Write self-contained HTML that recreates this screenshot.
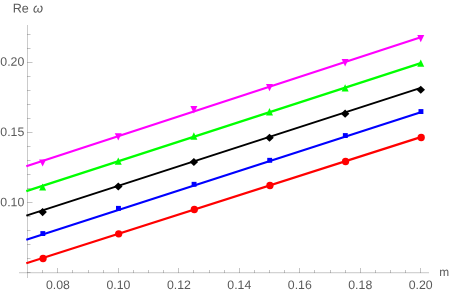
<!DOCTYPE html>
<html><head><meta charset="utf-8"><title>plot</title>
<style>
html,body{margin:0;padding:0;background:#fff;}
body{width:450px;height:295px;position:relative;overflow:hidden;font-family:"Liberation Sans",sans-serif;}
.t{position:absolute;font-size:12.3px;line-height:14px;color:#5a5a5a;white-space:nowrap;will-change:transform;font-family:"Liberation Sans",sans-serif;}
</style></head><body>
<svg width="450" height="295" viewBox="0 0 450 295" style="position:absolute;left:0;top:0">
<g stroke="#666666" fill="none">
<line x1="19" y1="272.5" x2="429" y2="272.5" stroke-width="1" stroke-opacity="0.29" shape-rendering="crispEdges"/>
<line x1="19" y1="273.5" x2="429" y2="273.5" stroke-width="1" stroke-opacity="0.08" shape-rendering="crispEdges"/>
<line x1="27.5" y1="25" x2="27.5" y2="278" stroke-width="1" stroke-opacity="0.34" shape-rendering="crispEdges"/>
<g stroke-width="1" stroke-opacity="0.39" shape-rendering="crispEdges">
<line x1="42.5" y1="273" x2="42.5" y2="270"/>
<line x1="57.5" y1="273" x2="57.5" y2="268"/>
<line x1="72.5" y1="273" x2="72.5" y2="270"/>
<line x1="88.5" y1="273" x2="88.5" y2="270"/>
<line x1="103.5" y1="273" x2="103.5" y2="270"/>
<line x1="118.5" y1="273" x2="118.5" y2="268"/>
<line x1="133.5" y1="273" x2="133.5" y2="270"/>
<line x1="148.5" y1="273" x2="148.5" y2="270"/>
<line x1="163.5" y1="273" x2="163.5" y2="270"/>
<line x1="178.5" y1="273" x2="178.5" y2="268"/>
<line x1="193.5" y1="273" x2="193.5" y2="270"/>
<line x1="209.5" y1="273" x2="209.5" y2="270"/>
<line x1="224.5" y1="273" x2="224.5" y2="270"/>
<line x1="239.5" y1="273" x2="239.5" y2="268"/>
<line x1="254.5" y1="273" x2="254.5" y2="270"/>
<line x1="269.5" y1="273" x2="269.5" y2="270"/>
<line x1="284.5" y1="273" x2="284.5" y2="270"/>
<line x1="299.5" y1="273" x2="299.5" y2="268"/>
<line x1="314.5" y1="273" x2="314.5" y2="270"/>
<line x1="330.5" y1="273" x2="330.5" y2="270"/>
<line x1="345.5" y1="273" x2="345.5" y2="270"/>
<line x1="360.5" y1="273" x2="360.5" y2="268"/>
<line x1="375.5" y1="273" x2="375.5" y2="270"/>
<line x1="390.5" y1="273" x2="390.5" y2="270"/>
<line x1="405.5" y1="273" x2="405.5" y2="270"/>
<line x1="420.5" y1="273" x2="420.5" y2="268"/>
<line x1="27" y1="272.5" x2="30.5" y2="272.5" shape-rendering="auto"/>
<line x1="27" y1="258.5" x2="30.5" y2="258.5" shape-rendering="auto"/>
<line x1="27" y1="244.5" x2="30.5" y2="244.5" shape-rendering="auto"/>
<line x1="27" y1="230.5" x2="30.5" y2="230.5" shape-rendering="auto"/>
<line x1="27" y1="216.5" x2="30.5" y2="216.5" shape-rendering="auto"/>
<line x1="27" y1="202.5" x2="32.5" y2="202.5" shape-rendering="auto"/>
<line x1="27" y1="188.5" x2="30.5" y2="188.5" shape-rendering="auto"/>
<line x1="27" y1="174.5" x2="30.5" y2="174.5" shape-rendering="auto"/>
<line x1="27" y1="160.5" x2="30.5" y2="160.5" shape-rendering="auto"/>
<line x1="27" y1="146.5" x2="30.5" y2="146.5" shape-rendering="auto"/>
<line x1="27" y1="132.5" x2="32.5" y2="132.5" shape-rendering="auto"/>
<line x1="27" y1="118.5" x2="30.5" y2="118.5" shape-rendering="auto"/>
<line x1="27" y1="104.5" x2="30.5" y2="104.5" shape-rendering="auto"/>
<line x1="27" y1="90.5" x2="30.5" y2="90.5" shape-rendering="auto"/>
<line x1="27" y1="76.5" x2="30.5" y2="76.5" shape-rendering="auto"/>
<line x1="27" y1="62.5" x2="32.5" y2="62.5" shape-rendering="auto"/>
<line x1="27" y1="48.5" x2="30.5" y2="48.5" shape-rendering="auto"/>
<line x1="27" y1="34.5" x2="30.5" y2="34.5" shape-rendering="auto"/>
</g></g>
<line x1="26.3" y1="166.23" x2="420.8" y2="37.19" stroke="#ff00ff" stroke-width="2.2"/>
<polygon points="39.12,159.40 46.12,159.40 42.62,166.50" fill="#ff00ff"/>
<polygon points="114.75,133.30 121.75,133.30 118.25,140.60" fill="#ff00ff"/>
<polygon points="190.37,106.10 197.37,106.10 193.87,113.50" fill="#ff00ff"/>
<polygon points="266.00,83.90 273.00,83.90 269.50,91.30" fill="#ff00ff"/>
<polygon points="341.62,58.90 348.62,58.90 345.12,66.60" fill="#ff00ff"/>
<polygon points="417.25,34.90 424.25,34.90 420.75,42.30" fill="#ff00ff"/>
<line x1="26.3" y1="191.13" x2="420.8" y2="63.15" stroke="#00ff00" stroke-width="2.2"/>
<polygon points="39.12,190.50 46.12,190.50 42.62,183.40" fill="#00ff00"/>
<polygon points="114.75,164.70 121.75,164.70 118.25,157.50" fill="#00ff00"/>
<polygon points="190.37,139.70 197.37,139.70 193.87,132.20" fill="#00ff00"/>
<polygon points="266.00,115.50 273.00,115.50 269.50,108.05" fill="#00ff00"/>
<polygon points="341.62,91.50 348.62,91.50 345.12,84.20" fill="#00ff00"/>
<polygon points="417.25,66.80 424.25,66.80 420.75,59.40" fill="#00ff00"/>
<line x1="26.3" y1="215.63" x2="420.8" y2="87.85" stroke="#000000" stroke-width="2.0"/>
<polygon points="38.37,212.10 42.62,208.05 46.87,212.10 42.62,216.15" fill="#000000"/>
<polygon points="114.00,186.50 118.25,182.45 122.50,186.50 118.25,190.55" fill="#000000"/>
<polygon points="189.62,161.95 193.87,157.90 198.12,161.95 193.87,166.00" fill="#000000"/>
<polygon points="265.25,137.70 269.50,133.65 273.75,137.70 269.50,141.75" fill="#000000"/>
<polygon points="340.87,113.65 345.12,109.60 349.37,113.65 345.12,117.70" fill="#000000"/>
<polygon points="416.50,89.70 420.75,85.65 425.00,89.70 420.75,93.75" fill="#000000"/>
<line x1="26.3" y1="239.73" x2="420.8" y2="112.30" stroke="#0000ff" stroke-width="2.2"/>
<rect x="40.37" y="231.10" width="4.9" height="4.9" fill="#0000ff"/>
<rect x="116.00" y="205.90" width="4.9" height="4.9" fill="#0000ff"/>
<rect x="191.62" y="181.85" width="4.9" height="4.9" fill="#0000ff"/>
<rect x="267.25" y="157.85" width="4.9" height="4.9" fill="#0000ff"/>
<rect x="342.87" y="133.10" width="4.9" height="4.9" fill="#0000ff"/>
<rect x="418.50" y="109.10" width="4.9" height="4.9" fill="#0000ff"/>
<line x1="26.3" y1="263.32" x2="420.8" y2="137.08" stroke="#ff0000" stroke-width="2.2"/>
<circle cx="43.07" cy="258.50" r="3.65" fill="#ff0000"/>
<circle cx="118.70" cy="233.80" r="3.65" fill="#ff0000"/>
<circle cx="194.32" cy="209.50" r="3.65" fill="#ff0000"/>
<circle cx="269.95" cy="185.50" r="3.65" fill="#ff0000"/>
<circle cx="345.57" cy="161.50" r="3.65" fill="#ff0000"/>
<circle cx="421.20" cy="137.50" r="3.65" fill="#ff0000"/>
</svg>
<svg width="450" height="295" viewBox="0 0 450 295" style="position:absolute;left:0;top:0;will-change:transform" text-rendering="geometricPrecision" font-family="Liberation Sans, sans-serif" fill="#5a5a5a"><text transform="translate(24.25,206.20) rotate(0.05)" text-anchor="end" font-size="12.3">0.10</text>
<text transform="translate(24.25,135.95) rotate(0.05)" text-anchor="end" font-size="12.3">0.15</text>
<text transform="translate(24.25,65.75) rotate(0.05)" text-anchor="end" font-size="12.3">0.20</text>
<text transform="translate(57.92,288.90) rotate(0.05)" text-anchor="middle" font-size="12.3">0.08</text>
<text transform="translate(118.39,288.90) rotate(0.05)" text-anchor="middle" font-size="12.3">0.10</text>
<text transform="translate(178.85,288.90) rotate(0.05)" text-anchor="middle" font-size="12.3">0.12</text>
<text transform="translate(239.32,288.90) rotate(0.05)" text-anchor="middle" font-size="12.3">0.14</text>
<text transform="translate(299.79,288.90) rotate(0.05)" text-anchor="middle" font-size="12.3">0.16</text>
<text transform="translate(360.25,288.90) rotate(0.05)" text-anchor="middle" font-size="12.3">0.18</text>
<text transform="translate(420.72,288.90) rotate(0.05)" text-anchor="middle" font-size="12.3">0.20</text>
<text transform="translate(439.25,276.00) rotate(0.05)" text-anchor="start" font-size="11.9">m</text>
<text transform="translate(12.65,12.50) rotate(0.05)" text-anchor="start" font-size="12.6">Re</text>
<text transform="translate(33.00,12.50) rotate(0.05)" text-anchor="start" font-size="12.9" font-style="italic">&#969;</text></svg>
</body></html>
